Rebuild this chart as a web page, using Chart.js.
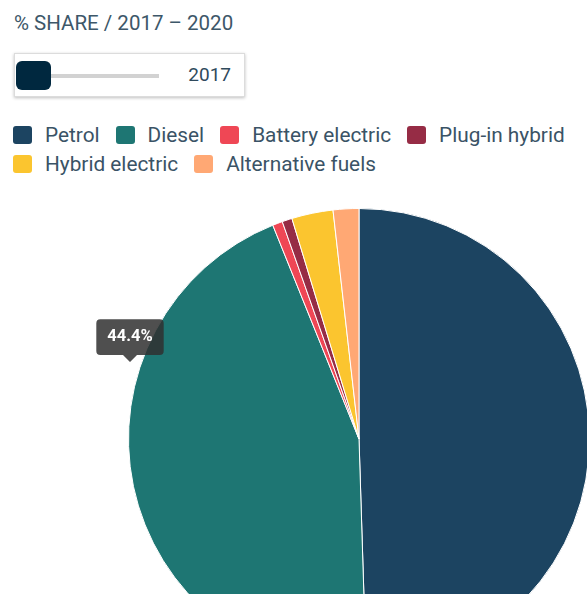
<!DOCTYPE html>
<html>
<head>
<meta charset="utf-8">
<script src="https://cdn.jsdelivr.net/npm/chart.js@4"></script>
<style>
  html, body { margin: 0; padding: 0; width: 587px; height: 594px; overflow: hidden; background: #fff; font-family: Roboto, "Noto Sans", sans-serif; }
  #title { position: absolute; left: 14px; top: 11px; font-size: 20.5px; line-height: 24px; color: #3d5769; }
  #slider { position: absolute; left: 14px; top: 53px; width: 229px; height: 42px; border: 1px solid #dcdcdc; box-shadow: 0 1px 3px rgba(0,0,0,0.25); background: #fff; }
  #track { position: absolute; left: 35px; top: 20px; width: 109px; height: 4px; background: #d2d2d2; }
  #knob { position: absolute; left: 1px; top: 7px; width: 35px; height: 29px; border-radius: 6px; background: #00283f; }
  #year { position: absolute; right: 13px; top: 9px; font-size: 19px; line-height: 24px; color: #2f4a5c; }
  #legend { position: absolute; left: 13px; top: 120px; width: 620px; display: flex; flex-wrap: wrap; }
  .item { display: flex; align-items: center; height: 29px; margin-right: 16px; font-size: 20.8px; color: #3a5366; white-space: nowrap; }
  .box { width: 19px; height: 18px; border-radius: 3px; margin-right: 13px; }
  .brk { flex-basis: 100%; height: 0; }
  #chartWrap { position: absolute; left: 0; top: 190px; }
</style>
</head>
<body>
<div id="title"></div>
<div id="slider"><div id="track"></div><div id="knob"></div><div id="year"></div></div>
<div id="legend"></div>
<div id="chartWrap"><canvas id="pieChart" width="718" height="500"></canvas></div>
<script>
// данные
const years = ['2017', '2018', '2019', '2020'];
const fuelTypes = ['Petrol', 'Diesel', 'Battery electric', 'Plug-in hybrid', 'Hybrid electric', 'Alternative fuels'];
const share2017 = [49.5, 44.4, 0.7, 0.7, 2.9, 1.8];
const fuelColors = ['#1c4461', '#1e7673', '#ef4755', '#962c45', '#fbc52f', '#ffa874'];

document.getElementById('title').textContent = '% SHARE / ' + years[0] + ' \u2013 ' + years[years.length - 1];
document.getElementById('year').textContent = years[0];

// легенда (две строки, как в оригинале)
const legend = document.getElementById('legend');
fuelTypes.forEach((name, i) => {
    if (i === 4) {
        const brk = document.createElement('div');
        brk.className = 'brk';
        legend.appendChild(brk);
    }
    const item = document.createElement('div');
    item.className = 'item';
    item.innerHTML = '<span class="box" style="background:' + fuelColors[i] + '"></span>' + name;
    legend.appendChild(item);
});

Chart.Tooltip.positioners.pointer = function (items, eventPosition) {
    return eventPosition;
};

const ctx = document.getElementById('pieChart').getContext('2d');
const chart = new Chart(ctx, {
    type: 'pie',
    data: {
        labels: fuelTypes,
        datasets: [{
            data: share2017,
            backgroundColor: fuelColors,
            borderColor: '#ffffff',
            borderWidth: 1
        }]
    },
    options: {
        responsive: false,
        animation: false,
        layout: { padding: { left: 128, right: 128, top: 18, bottom: 20 } },
        plugins: {
            legend: { display: false },
            tooltip: {
                position: 'pointer',
                yAlign: 'bottom',
                xAlign: 'center',
                displayColors: false,
                backgroundColor: 'rgba(48,48,48,0.85)',
                bodyFont: { family: 'Roboto', size: 16.5, weight: 'bold' },
                padding: { x: 11, y: 8 },
                caretSize: 7,
                cornerRadius: 4,
                callbacks: {
                    title: () => '',
                    label: (c) => c.parsed + '%'
                }
            }
        }
    }
});

chart.tooltip.setActiveElements([{ datasetIndex: 0, index: 1 }], { x: 130, y: 174 });
chart.update();
</script>
</body>
</html>
